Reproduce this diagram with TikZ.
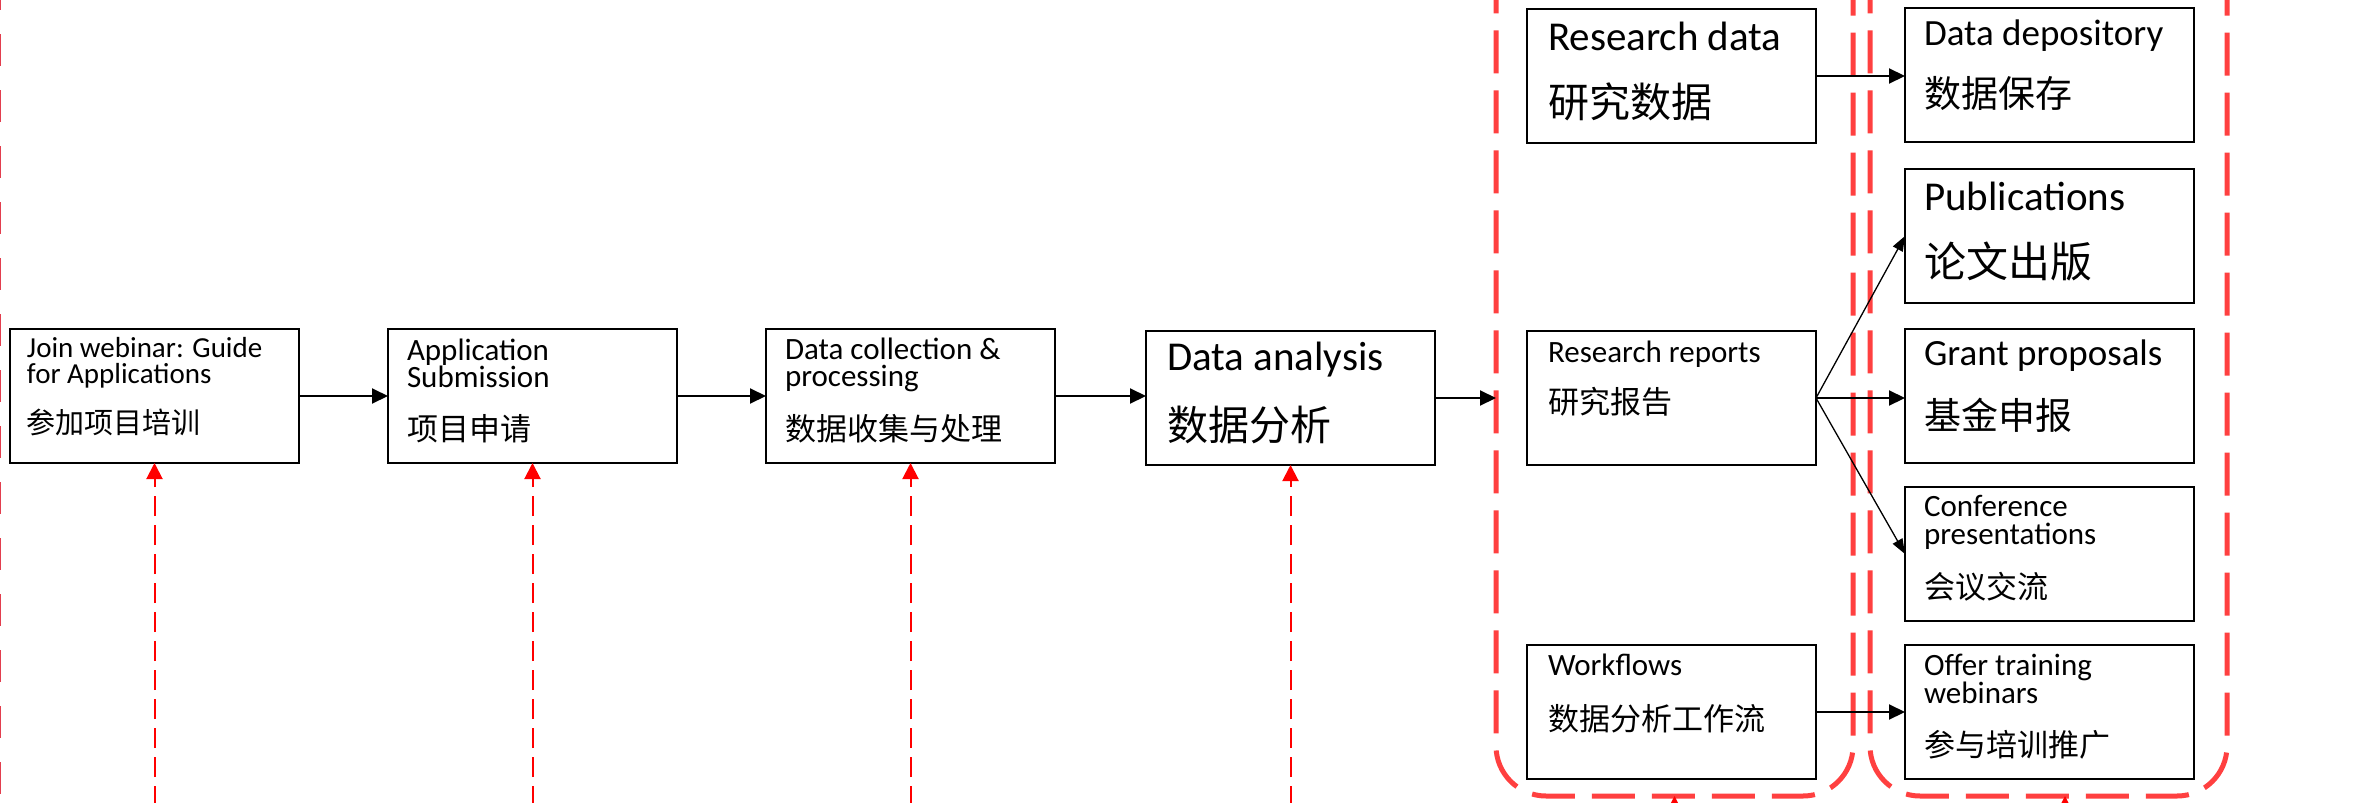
\documentclass[tikz,border=0pt]{standalone}
\usepackage{fontspec}
\setmainfont{Carlito}
\newfontfamily\cjk{Noto Sans CJK SC}
\usetikzlibrary{arrows.meta,calc}
\definecolor{contred}{RGB}{255,64,64}
\definecolor{edgered}{RGB}{226,62,78}
\newcommand\fsz[1]{\fontsize{#1}{#1}\selectfont}
\newcommand\twoline[4]{\vtop{\fontsize{#1}{#2}\selectfont\lineskiplimit=-100pt\hbox{#3}\hbox{#4}}}
\begin{document}
\begin{tikzpicture}[x=1pt,y=-1pt,
 box/.style={draw=black, line width=1.6pt, minimum width=289pt, minimum height=134pt, anchor=north west, inner sep=0pt, outer sep=0pt},
 txt/.style={anchor=base west, inner sep=0pt, outer sep=0pt},
 arr/.style={line width=2pt, -{Triangle[length=16pt,width=15pt]}},
 thinarr/.style={line width=1.3pt, -{Triangle[length=15pt,width=11pt]}},
 upred/.style={draw=red, line width=2pt, dash pattern=on 20pt off 9pt, -{Triangle[length=16pt,width=16pt]}},
 container/.style={draw=contred, line width=5pt, dash pattern=on 43pt off 17pt, rounded corners=50pt, minimum width=357pt, minimum height=1200pt, anchor=south west, inner sep=0pt, outer sep=0pt},
 edgeline/.style={draw=edgered, line width=2.4pt, dash pattern=on 32pt off 24pt}]
\useasboundingbox (0,0) rectangle (2380,803);
\clip (0,0) rectangle (2380,803);
\fill[white] (0,0) rectangle (2380,803);
\coordinate (bottomline) at (0,835);
% left edge dashed line
\coordinate (e1) at (0,-22);
\coordinate (e2) at (0,835);
\draw[edgeline] (e1) -- (e2);
% containers
\node[container] (c1) at (1496,796) {};
\node[container] (c2) at (1870,796) {};
% main row boxes
\node[box] (b1) at (10,329) {};
\node[box] (b2) at (388,329) {};
\node[box] (b3) at (766,329) {};
\node[box] (b4) at (1146,331) {};
% left column
\node[box] (rd) at (1527,9) {};
\node[box] (rr) at (1527,331) {};
\node[box] (wf) at (1527,645) {};
% right column
\node[box] (dd) at (1905,8) {};
\node[box] (pub) at (1905,169) {};
\node[box] (gp) at (1905,329) {};
\node[box] (cp) at (1905,487) {};
\node[box] (ot) at (1905,645) {};
% texts
\node[txt] (b1a) at ($(b1.north west)+(17,28)$) {\twoline{29}{26}{Join webinar: Guide}{for Applications}};
\node[txt] (b1c) at ($(b1.north west)+(17,104)$) {\fsz{29}\cjk 参加项目培训};
\node[txt] (b2a) at ($(b2.north west)+(19,31)$) {\twoline{31}{27.5}{Application}{Submission}};
\node[txt] (b2c) at ($(b2.north west)+(19,111)$) {\fsz{31}\cjk 项目申请};
\node[txt] (b3a) at ($(b3.north west)+(19,30)$) {\twoline{31}{27.5}{Data collection \&}{processing}};
\node[txt] (b3c) at ($(b3.north west)+(19,111)$) {\fsz{31}\cjk 数据收集与处理};
\node[txt] (b4a) at ($(b4.north west)+(21,39)$) {\fsz{41}Data analysis};
\node[txt] (b4c) at ($(b4.north west)+(21,109)$) {\fsz{41}\cjk 数据分析};
\node[txt] (rda) at ($(rd.north west)+(21,41)$) {\fsz{41}Research data};
\node[txt] (rdc) at ($(rd.north west)+(21,108)$) {\fsz{41}\cjk 研究数据};
\node[txt] (rra) at ($(rr.north west)+(21,31)$) {\fsz{31}Research reports};
\node[txt] (rrc) at ($(rr.north west)+(21,82)$) {\fsz{31}\cjk 研究报告};
\node[txt] (wfa) at ($(wf.north west)+(21,30)$) {\fsz{31}Workflows};
\node[txt] (wfc) at ($(wf.north west)+(21,85)$) {\fsz{31}\cjk 数据分析工作流};
\node[txt] (dda) at ($(dd.north west)+(19,37)$) {\fsz{37}Data depository};
\node[txt] (ddc) at ($(dd.north west)+(19,99)$) {\fsz{37}\cjk 数据保存};
\node[txt] (puba) at ($(pub.north west)+(19,41)$) {\fsz{41}Publications};
\node[txt] (pubc) at ($(pub.north west)+(19,108)$) {\fsz{42}\cjk 论文出版};
\node[txt] (gpa) at ($(gp.north west)+(19,36)$) {\fsz{37}Grant proposals};
\node[txt] (gpc) at ($(gp.north west)+(19,100)$) {\fsz{37}\cjk 基金申报};
\node[txt] (cpa) at ($(cp.north west)+(19,29.5)$) {\twoline{31}{27.5}{Conference}{presentations}};
\node[txt] (cpc) at ($(cp.north west)+(19,111)$) {\fsz{31}\cjk 会议交流};
\node[txt] (ota) at ($(ot.north west)+(19,30.5)$) {\twoline{31}{27.5}{Offer training}{webinars}};
\node[txt] (otc) at ($(ot.north west)+(19,111)$) {\fsz{31}\cjk 参与培训推广};
% black connectors
\draw[arr] (b1.east) -- (b2.west);
\draw[arr] (b2.east) -- (b3.west);
\draw[arr] (b3.east) -- (b3.east -| b4.west);
\draw[arr] (b4.east) -- (b4.east -| c1.west);
\draw[arr] (rd.east) -- (rd.east -| dd.west);
\draw[thinarr] (rr.east) -- (pub.west);
\draw[arr] (rr.east) -- (rr.east -| gp.west);
\draw[thinarr] (rr.east) -- (cp.west);
\draw[arr] (wf.east) -- (wf.east -| ot.west);
% red dashed upward connectors
\draw[upred] (b1.south |- bottomline) -- (b1.south);
\draw[upred] (b2.south |- bottomline) -- (b2.south);
\draw[upred] (b3.south |- bottomline) -- (b3.south);
\draw[upred] (b4.south |- bottomline) -- (b4.south);
\coordinate (c2tip) at (2065,796);
\draw[upred] (c1.south |- bottomline) -- (c1.south);
\draw[upred] (c2tip |- bottomline) -- (c2tip);
\end{tikzpicture}
\end{document}
